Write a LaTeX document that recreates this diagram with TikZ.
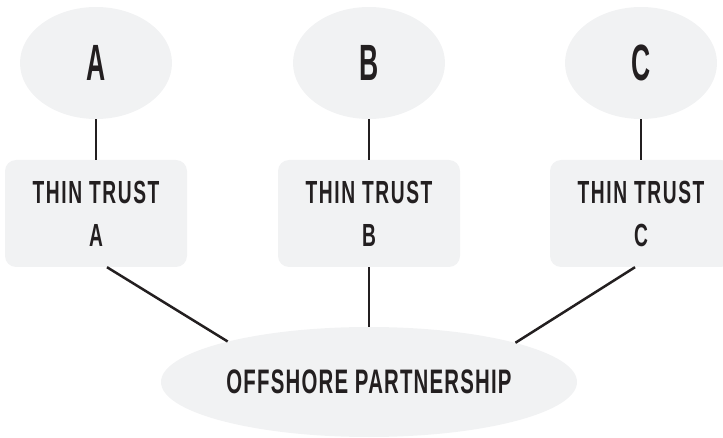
\documentclass[tikz,border=0pt]{standalone}
\usepackage{fontspec}
\usetikzlibrary{shapes.geometric}
\newfontfamily\cfont{Liberation Sans}[FakeStretch=0.6,LetterSpace=5]
\newfontfamily\cfontbig{Liberation Sans}[FakeStretch=0.52]
\newfontfamily\cfontop{Liberation Sans}[FakeStretch=0.6,LetterSpace=3.5]
\definecolor{shade}{HTML}{F1F2F3}
\definecolor{ink}{HTML}{231F20}
\tikzset{
  person/.style={ellipse, fill=shade, minimum width=152pt, minimum height=112pt, inner sep=0pt,
    text=ink, font=\cfontbig\bfseries\fontsize{51}{51}\selectfont},
  trustbox/.style={rectangle, rounded corners=11pt, fill=shade, minimum width=182pt, minimum height=107pt,
    inner sep=0pt, align=center, text=ink, font=\cfont\bfseries\fontsize{32}{43}\selectfont},
  partner/.style={ellipse, fill=shade, minimum width=416pt, minimum height=110pt, inner sep=0pt,
    text=ink, font=\cfontop\bfseries\fontsize{34}{34}\selectfont},
  link/.style={draw=ink, line width=2.5pt}
}
\begin{document}
\begin{tikzpicture}[x=1pt,y=-1pt]
\useasboundingbox (0,0) rectangle (723,438);
\node[person] (pa) at (96,63) {A};
\node[person] (pb) at (369,63) {B};
\node[person] (pc) at (641,63) {C};
\node[trustbox] (ta) at (96,213.5) {THIN TRUST\\A};
\node[trustbox] (tb) at (369,213.5) {THIN TRUST\\B};
\node[trustbox] (tc) at (641,213.5) {THIN TRUST\\C};
\node[partner] (op) at (369,382) {OFFSHORE PARTNERSHIP};
\draw[link] (pa.south) -- (ta.north);
\draw[link] (pb.south) -- (tb.north);
\draw[link] (pc.south) -- (tc.north);
\draw[link] ([xshift=11pt]ta.south) -- (op.164.8);
\draw[link] (tb.south) -- (op.north);
\draw[link] ([xshift=-6pt]tc.south) -- (op.15.5);
\end{tikzpicture}
\end{document}
